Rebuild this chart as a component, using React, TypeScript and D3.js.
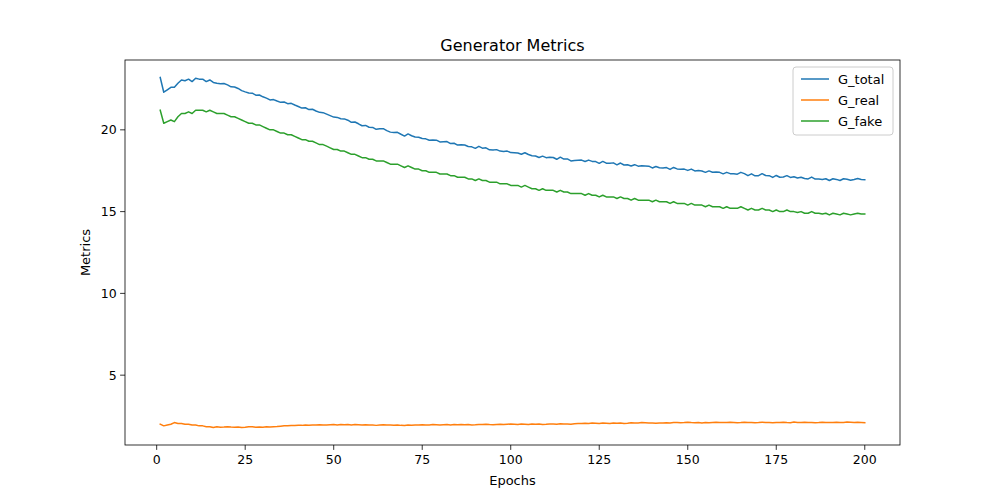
import React from "react";
import * as d3 from "d3";

const seriesNames = ["G_total", "G_real", "G_fake"];
const colors = ["#1f77b4", "#ff7f0e", "#2ca02c"];
const xTicks = [0, 25, 50, 75, 100, 125, 150, 175, 200];
const yTicks = [5, 10, 15, 20];

const gTotal = [
23.2,22.3,22.45,22.6,22.6,22.85,23.05,23.0,23.1,22.95,23.15,23.1,23.1,22.95,23.05,22.9,22.85,22.82,22.83,22.75,
22.63,22.62,22.53,22.4,22.32,22.25,22.24,22.12,22.13,22.02,21.94,21.83,21.85,21.76,21.68,21.7,21.6,21.62,21.52,21.43,
21.33,21.35,21.24,21.26,21.15,21.07,21.05,20.96,20.87,20.78,20.76,20.68,20.67,20.59,20.46,20.48,20.37,20.25,20.27,20.16,
20.15,20.03,20.06,20.07,19.95,19.86,19.84,19.85,19.73,19.62,19.75,19.64,19.56,19.55,19.47,19.45,19.36,19.38,19.37,19.26,
19.27,19.28,19.16,19.18,19.07,19.09,19.07,18.98,18.96,18.87,18.99,18.88,18.9,18.78,18.77,18.79,18.7,18.68,18.7,18.61,
18.6,18.58,18.51,18.6,18.49,18.42,18.4,18.31,18.39,18.3,18.32,18.31,18.2,18.33,18.21,18.22,18.1,18.13,18.14,18.15,
18.06,18.15,18.07,18.06,17.95,18.07,17.96,17.95,17.98,17.86,17.97,17.85,17.86,17.79,17.87,17.78,17.8,17.79,17.78,17.67,
17.76,17.68,17.67,17.69,17.58,17.7,17.61,17.59,17.6,17.52,17.6,17.49,17.51,17.48,17.4,17.49,17.41,17.42,17.4,17.31,
17.4,17.32,17.31,17.29,17.4,17.32,17.2,17.31,17.19,17.2,17.32,17.21,17.2,17.09,17.21,17.1,17.12,17.2,17.09,17.13,
17.06,17.1,17.02,17.0,17.11,16.99,17.0,16.97,17.01,16.9,17.01,16.97,16.9,17.01,16.98,16.92,16.96,17.02,16.96,16.95];

const gReal = [
2.0,1.9,1.95,2.0,2.1,2.05,2.05,2.0,2.0,1.95,1.95,1.9,1.9,1.85,1.85,1.8,1.85,1.82,1.83,1.85,
1.83,1.82,1.83,1.8,1.82,1.85,1.84,1.82,1.83,1.82,1.84,1.83,1.85,1.86,1.88,1.9,1.9,1.92,1.92,1.93,
1.93,1.95,1.94,1.96,1.95,1.97,1.95,1.96,1.97,1.98,1.96,1.98,1.97,1.99,1.96,1.98,1.97,1.95,1.97,1.96,
1.95,1.93,1.96,1.97,1.95,1.96,1.94,1.95,1.93,1.92,1.95,1.94,1.96,1.95,1.97,1.95,1.96,1.98,1.97,1.96,
1.97,1.98,1.96,1.98,1.97,1.99,1.97,1.98,1.96,1.97,1.99,1.98,2.0,1.98,1.97,1.99,2.0,1.98,2.0,2.01,
2.0,1.98,2.01,2.0,1.99,2.02,2.0,2.01,1.99,2.0,2.02,2.01,2.0,2.03,2.01,2.02,2.0,2.03,2.04,2.05,
2.06,2.05,2.07,2.06,2.05,2.07,2.06,2.05,2.08,2.06,2.07,2.05,2.06,2.09,2.07,2.08,2.1,2.09,2.08,2.07,
2.06,2.08,2.07,2.09,2.08,2.1,2.11,2.09,2.1,2.12,2.1,2.09,2.11,2.08,2.1,2.09,2.11,2.12,2.1,2.11,
2.1,2.12,2.11,2.09,2.1,2.12,2.1,2.11,2.09,2.1,2.12,2.11,2.1,2.09,2.11,2.1,2.12,2.1,2.09,2.13,
2.11,2.1,2.12,2.1,2.11,2.09,2.1,2.12,2.11,2.1,2.11,2.12,2.1,2.11,2.13,2.12,2.11,2.12,2.11,2.1];

const gFake = [
21.2,20.4,20.5,20.6,20.5,20.8,21.0,21.0,21.1,21.0,21.2,21.2,21.2,21.1,21.2,21.1,21.0,21.0,21.0,20.9,
20.8,20.8,20.7,20.6,20.5,20.4,20.4,20.3,20.3,20.2,20.1,20.0,20.0,19.9,19.8,19.8,19.7,19.7,19.6,19.5,
19.4,19.4,19.3,19.3,19.2,19.1,19.1,19.0,18.9,18.8,18.8,18.7,18.7,18.6,18.5,18.5,18.4,18.3,18.3,18.2,
18.2,18.1,18.1,18.1,18.0,17.9,17.9,17.9,17.8,17.7,17.8,17.7,17.6,17.6,17.5,17.5,17.4,17.4,17.4,17.3,
17.3,17.3,17.2,17.2,17.1,17.1,17.1,17.0,17.0,16.9,17.0,16.9,16.9,16.8,16.8,16.8,16.7,16.7,16.7,16.6,
16.6,16.6,16.5,16.6,16.5,16.4,16.4,16.3,16.4,16.3,16.3,16.3,16.2,16.3,16.2,16.2,16.1,16.1,16.1,16.1,
16.0,16.1,16.0,16.0,15.9,16.0,15.9,15.9,15.9,15.8,15.9,15.8,15.8,15.7,15.8,15.7,15.7,15.7,15.7,15.6,
15.7,15.6,15.6,15.6,15.5,15.6,15.5,15.5,15.5,15.4,15.5,15.4,15.4,15.4,15.3,15.4,15.3,15.3,15.3,15.2,
15.3,15.2,15.2,15.2,15.3,15.2,15.1,15.2,15.1,15.1,15.2,15.1,15.1,15.0,15.1,15.0,15.0,15.1,15.0,15.0,
14.95,15.0,14.9,14.9,15.0,14.9,14.9,14.85,14.9,14.8,14.9,14.85,14.8,14.9,14.85,14.8,14.85,14.9,14.85,14.85];

const series = [gTotal, gReal, gFake];

export default function App() {
  const L = 125, R = 900, T = 60, B = 445;
  const n = gTotal.length;
  const x = d3.scale ? null : null;
  const xs = d3.scaleLinear().domain([1 - 0.05 * (n - 1), n + 0.05 * (n - 1)]).range([L, R]);
  const all = series.flat();
  const mn = d3.min(all)!, mx = d3.max(all)!;
  const pad = (mx - mn) * 0.05;
  const ys = d3.scaleLinear().domain([mn - pad, mx + pad]).range([B, T]);
  const line = d3.line<number>().x((_, i) => xs(i + 1)).y((v) => ys(v));
  const font = "DejaVu Sans, sans-serif";
  return (
    <div style={{ position: "fixed", left: 0, top: 0 }}>
      <svg width={1000} height={500} style={{ display: "block", background: "#fff" }} fontFamily={font}>
        <defs>
          <clipPath id="c"><rect x={L} y={T} width={R - L} height={B - T} /></clipPath>
        </defs>
        <g clipPath="url(#c)">
          {series.map((s, k) => (
            <path key={k} d={line(s)!} fill="none" stroke={colors[k]} strokeWidth={1.5} strokeLinejoin="round" strokeLinecap="square" />
          ))}
        </g>
        <rect x={L} y={T} width={R - L} height={B - T} fill="none" stroke="#000" strokeWidth={0.8} />
        {xTicks.map((t) => (
          <g key={t} transform={`translate(${xs(t)},${B})`}>
            <line y2={4.9} stroke="#000" strokeWidth={0.8} />
            <text y={19} textAnchor="middle" fontSize={13.9 * 0.9}>{t}</text>
          </g>
        ))}
        {yTicks.map((t) => (
          <g key={t} transform={`translate(${L},${ys(t)})`}>
            <line x2={-4.9} stroke="#000" strokeWidth={0.8} />
            <text x={-8.4} dy="0.35em" textAnchor="end" fontSize={13.9 * 0.9}>{t}</text>
          </g>
        ))}
        <text x={(L + R) / 2} y={51} textAnchor="middle" fontSize={16}>Generator Metrics</text>
        <text x={(L + R) / 2} y={485} textAnchor="middle" fontSize={13}>Epochs</text>
        <text transform={`translate(90,${(T + B) / 2}) rotate(-90)`} textAnchor="middle" fontSize={13}>Metrics</text>
        <g transform="translate(793,67)">
          <rect width={100} height={68} rx={3} fill="#fff" fillOpacity={0.8} stroke="#ccc" />
          {seriesNames.map((nm, k) => (
            <g key={nm} transform={`translate(8,${12 + k * 21})`}>
              <line x1={0} x2={28} stroke={colors[k]} strokeWidth={1.5} />
              <text x={37} dy="0.35em" fontSize={13}>{nm}</text>
            </g>
          ))}
        </g>
      </svg>
    </div>
  );
}
